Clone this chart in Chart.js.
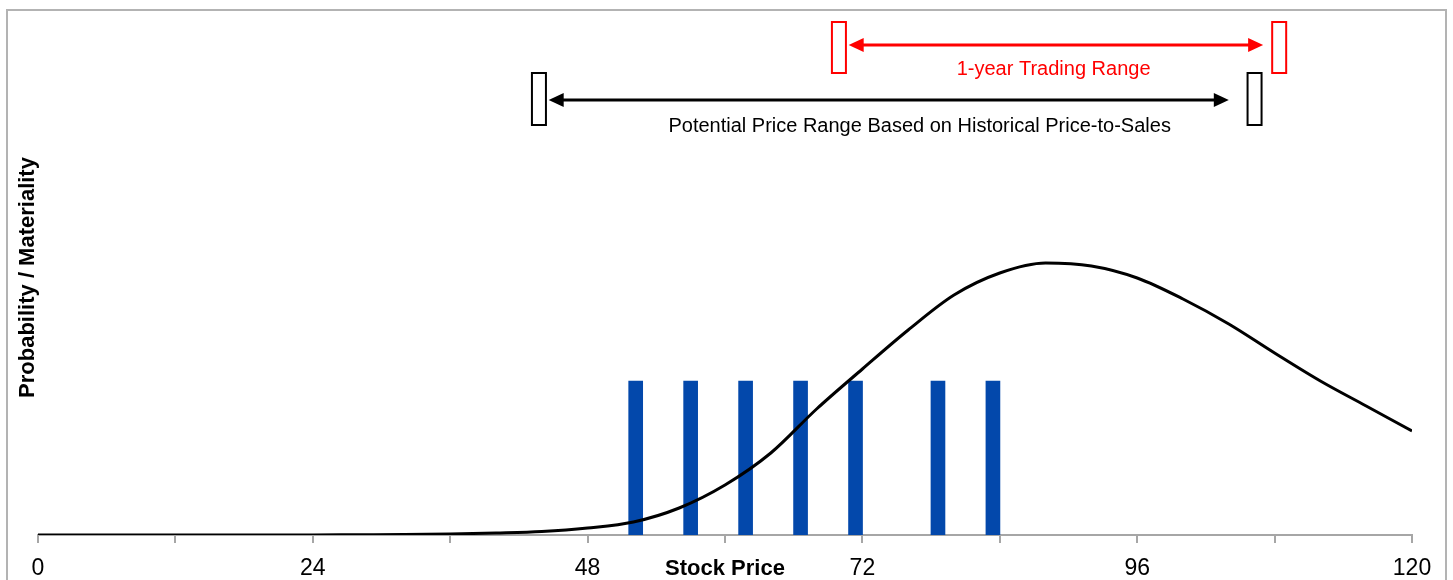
<!DOCTYPE html>
<html>
<head>
<meta charset="utf-8">
<script src="https://cdn.jsdelivr.net/npm/chart.js@4.4.1/dist/chart.umd.min.js"></script>
<style>
  body { margin: 0; background: #fff; overflow: hidden; }
  #frame { position: absolute; left: 6px; top: 9px; width: 1441px; height: 620px; border: 2px solid #b3b3b3; box-sizing: border-box; }
  #wrap { position: absolute; left: 0; top: 0; width: 1453px; height: 580px; }
</style>
</head>
<body>
<div id="frame"></div>
<div id="wrap"><canvas id="chart"></canvas></div>
<script>
// probability curve
const curveX = [0, 4, 8, 12, 16, 20, 24, 28, 32, 36, 40, 44, 48, 52, 56, 60, 64, 68, 72, 76, 80, 84, 88, 92, 96, 100, 104, 108, 112, 116, 120];
const curveY = [0, 0, 0, 0, 0, 0, 0.1, 0.3, 0.5, 1, 2, 3.5, 7, 13, 27, 50, 82, 126, 166, 205, 240, 262, 272, 269, 257, 236, 211, 182, 154, 129, 104];

// blue materiality bars
const barX = [52.2, 57.0, 61.8, 66.6, 71.4, 78.6, 83.4];
const barY = [154, 154, 154, 154, 154, 154, 154];

// ranges shown above the chart
const priceRange = [43.75, 106.25];
const priceArrow = [44.6, 104.0];
const priceLabel = 'Potential Price Range Based on Historical Price-to-Sales';
const tradingRange = [69.95, 108.4];
const tradingArrow = [70.8, 107.0];
const tradingLabel = '1-year Trading Range';

const FONT = "'Liberation Sans', Arial, sans-serif";

function arrowHead(ctx, x, y, dir) {
  ctx.beginPath();
  ctx.moveTo(x, y);
  ctx.lineTo(x - dir * 15, y - 7);
  ctx.lineTo(x - dir * 15, y + 7);
  ctx.closePath();
  ctx.fill();
}

function drawRange(ctx, xs, ys, range, arrow, label, color, lvl) {
  const boxW = 14;
  ctx.save();
  ctx.strokeStyle = color;
  ctx.fillStyle = color;
  ctx.lineWidth = 2;
  const top = ys.getPixelForValue(lvl.boxTop);
  const bot = ys.getPixelForValue(lvl.boxBottom);
  range.forEach(v => {
    const cx = xs.getPixelForValue(v);
    ctx.strokeRect(cx - boxW / 2, top, boxW, bot - top);
  });
  const ay = ys.getPixelForValue(lvl.arrow);
  const x1 = xs.getPixelForValue(arrow[0]);
  const x2 = xs.getPixelForValue(arrow[1]);
  ctx.lineWidth = 3;
  ctx.beginPath();
  ctx.moveTo(x1 + 10, ay);
  ctx.lineTo(x2 - 10, ay);
  ctx.stroke();
  arrowHead(ctx, x1, ay, -1);
  arrowHead(ctx, x2, ay, 1);
  ctx.font = '20px ' + FONT;
  ctx.textAlign = 'center';
  ctx.textBaseline = 'middle';
  ctx.fillText(label, xs.getPixelForValue(lvl.textX), ys.getPixelForValue(lvl.text));
  ctx.restore();
}

const rangesPlugin = {
  id: 'ranges',
  afterDraw(chart) {
    const xs = chart.scales.x, ys = chart.scales.y, ctx = chart.ctx;
    drawRange(ctx, xs, ys, priceRange, priceArrow, priceLabel, '#000000',
      { boxTop: 462, boxBottom: 410, arrow: 435, text: 409, textX: 77 });
    drawRange(ctx, xs, ys, tradingRange, tradingArrow, tradingLabel, '#ff0000',
      { boxTop: 513, boxBottom: 462, arrow: 490, text: 466, textX: 88.7 });
  }
};

new Chart(document.getElementById('chart'), {
  type: 'bar',
  data: {
    datasets: [
      {
        type: 'line',
        data: curveX.map((x, i) => ({ x: x, y: curveY[i] })),
        borderColor: '#000000',
        borderWidth: 3,
        pointRadius: 0,
        cubicInterpolationMode: 'monotone',
        order: 0
      },
      {
        type: 'bar',
        data: barX.map((x, i) => ({ x: x, y: barY[i] })),
        backgroundColor: '#0348ab',
        barThickness: 14,
        order: 1
      }
    ]
  },
  options: {
    responsive: true,
    maintainAspectRatio: false,
    animation: false,
    layout: { padding: { left: 6, right: 41, top: 20, bottom: 0 } },
    plugins: { legend: { display: false }, tooltip: { enabled: false } },
    scales: {
      x: {
        type: 'linear',
        min: 0,
        max: 120,
        offset: false,
        afterFit: s => { s.paddingLeft = 0; s.paddingRight = 0; },
        grid: { offset: false, drawOnChartArea: false, drawTicks: true, tickLength: 8, color: '#a6a6a6', lineWidth: 2 },
        border: { color: '#a6a6a6', width: 2 },
        ticks: {
          stepSize: 12,
          autoSkip: false,
          maxRotation: 0,
          padding: 12,
          color: '#000',
          font: { family: FONT, size: 23 },
          callback: v => (v % 24 === 0 ? v : '')
        },
        title: {
          display: true,
          text: 'Stock Price',
          color: '#000',
          font: { family: FONT, size: 22, weight: 'bold' },
          padding: { top: -39, bottom: -2 }
        }
      },
      y: {
        min: 0,
        max: 515,
        grid: { display: false, drawTicks: false },
        border: { display: false },
        ticks: { display: false },
        title: {
          display: true,
          text: 'Probability / Materiality',
          color: '#000',
          font: { family: FONT, size: 22, weight: 'bold' },
          padding: { top: 8.8, bottom: -3.2 }
        }
      }
    }
  },
  plugins: [rangesPlugin]
});
</script>
</body>
</html>
